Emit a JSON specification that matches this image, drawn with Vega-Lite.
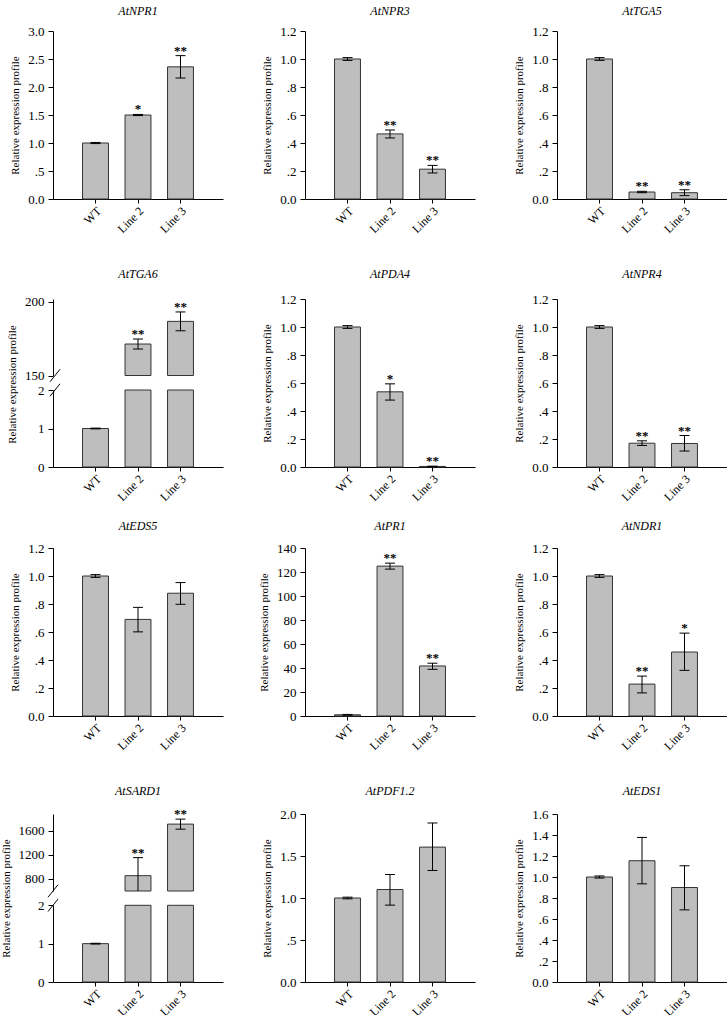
{
  "$schema": "https://vega.github.io/schema/vega-lite/v6.json",
  "background": "white",
  "padding": {"left": 0, "top": 5, "right": 0, "bottom": 0},
  "config": {
    "font": "Liberation Serif",
    "view": {"stroke": null},
    "axis": {"grid": false, "domainColor": "#000000", "tickColor": "#000000", "labelColor": "#000000", "titleColor": "#000000", "labelFont": "Liberation Serif", "titleFont": "Liberation Serif", "labelFontSize": 13, "titleFontSize": 11, "titleFontWeight": "normal", "tickSize": 5, "labelPadding": 4, "titlePadding": 7, "domainWidth": 1, "tickWidth": 1, "labelOverlap": false},
    "axisX": {"labelAngle": -45, "labelFontSize": 12, "tickSize": 4, "labelPadding": 2},
    "title": {"font": "Liberation Serif", "fontSize": 12, "fontStyle": "italic", "fontWeight": "normal", "color": "#000000", "anchor": "middle", "frame": "group", "baseline": "alphabetic"}
  },
  "datasets": {
    "d": [
      {"gene": "AtNPR1", "line": "WT", "value": 1.0, "lo": 0.99, "hi": 1.01, "sig": ""},
      {"gene": "AtNPR1", "line": "Line 2", "value": 1.5, "lo": 1.49, "hi": 1.51, "sig": "*"},
      {"gene": "AtNPR1", "line": "Line 3", "value": 2.36, "lo": 2.16, "hi": 2.56, "sig": "**"},
      {"gene": "AtNPR3", "line": "WT", "value": 1.0, "lo": 0.99, "hi": 1.01, "sig": ""},
      {"gene": "AtNPR3", "line": "Line 2", "value": 0.465, "lo": 0.436, "hi": 0.493, "sig": "**"},
      {"gene": "AtNPR3", "line": "Line 3", "value": 0.213, "lo": 0.186, "hi": 0.24, "sig": "**"},
      {"gene": "AtTGA5", "line": "WT", "value": 1.0, "lo": 0.99, "hi": 1.01, "sig": ""},
      {"gene": "AtTGA5", "line": "Line 2", "value": 0.05, "lo": 0.045, "hi": 0.055, "sig": "**"},
      {"gene": "AtTGA5", "line": "Line 3", "value": 0.045, "lo": 0.024, "hi": 0.066, "sig": "**"},
      {"gene": "AtTGA6", "line": "WT", "value": 1.0, "lo": 0.99, "hi": 1.01, "sig": ""},
      {"gene": "AtTGA6", "line": "Line 2", "value": 171.4, "lo": 168.0, "hi": 174.8, "sig": "**"},
      {"gene": "AtTGA6", "line": "Line 3", "value": 186.8, "lo": 180.4, "hi": 193.2, "sig": "**"},
      {"gene": "AtPDA4", "line": "WT", "value": 1.0, "lo": 0.99, "hi": 1.01, "sig": ""},
      {"gene": "AtPDA4", "line": "Line 2", "value": 0.537, "lo": 0.478, "hi": 0.594, "sig": "*"},
      {"gene": "AtPDA4", "line": "Line 3", "value": 0.004, "lo": 0.002, "hi": 0.006, "sig": "**"},
      {"gene": "AtNPR4", "line": "WT", "value": 1.0, "lo": 0.99, "hi": 1.01, "sig": ""},
      {"gene": "AtNPR4", "line": "Line 2", "value": 0.17, "lo": 0.154, "hi": 0.187, "sig": "**"},
      {"gene": "AtNPR4", "line": "Line 3", "value": 0.168, "lo": 0.114, "hi": 0.225, "sig": "**"},
      {"gene": "AtEDS5", "line": "WT", "value": 1.0, "lo": 0.99, "hi": 1.01, "sig": ""},
      {"gene": "AtEDS5", "line": "Line 2", "value": 0.69, "lo": 0.601, "hi": 0.776, "sig": ""},
      {"gene": "AtEDS5", "line": "Line 3", "value": 0.877, "lo": 0.798, "hi": 0.953, "sig": ""},
      {"gene": "AtPR1", "line": "WT", "value": 1.0, "lo": 0.7, "hi": 1.3, "sig": ""},
      {"gene": "AtPR1", "line": "Line 2", "value": 124.9, "lo": 122.4, "hi": 127.4, "sig": "**"},
      {"gene": "AtPR1", "line": "Line 3", "value": 41.7, "lo": 38.9, "hi": 44.0, "sig": "**"},
      {"gene": "AtNDR1", "line": "WT", "value": 1.0, "lo": 0.99, "hi": 1.01, "sig": ""},
      {"gene": "AtNDR1", "line": "Line 2", "value": 0.228, "lo": 0.165, "hi": 0.285, "sig": "**"},
      {"gene": "AtNDR1", "line": "Line 3", "value": 0.457, "lo": 0.326, "hi": 0.592, "sig": "*"},
      {"gene": "AtSARD1", "line": "WT", "value": 1.0, "lo": 0.99, "hi": 1.01, "sig": ""},
      {"gene": "AtSARD1", "line": "Line 2", "value": 855, "lo": 555, "hi": 1155, "sig": "**"},
      {"gene": "AtSARD1", "line": "Line 3", "value": 1712, "lo": 1628, "hi": 1795, "sig": "**"},
      {"gene": "AtPDF1.2", "line": "WT", "value": 1.0, "lo": 0.99, "hi": 1.01, "sig": ""},
      {"gene": "AtPDF1.2", "line": "Line 2", "value": 1.101, "lo": 0.915, "hi": 1.28, "sig": ""},
      {"gene": "AtPDF1.2", "line": "Line 3", "value": 1.606, "lo": 1.328, "hi": 1.893, "sig": ""},
      {"gene": "AtEDS1", "line": "WT", "value": 1.0, "lo": 0.99, "hi": 1.01, "sig": ""},
      {"gene": "AtEDS1", "line": "Line 2", "value": 1.155, "lo": 0.935, "hi": 1.377, "sig": ""},
      {"gene": "AtEDS1", "line": "Line 3", "value": 0.9, "lo": 0.687, "hi": 1.107, "sig": ""}
    ]
  },
  "columns": 3,
  "spacing": {"row": 81, "column": 82},
  "bounds": "flush",
  "align": "each",
  "concat": [
    {
      "title": {"text": "AtNPR1", "offset": 7},
      "width": 170, "height": 168,
      "data": {"name": "d"},
      "transform": [{"filter": "datum.gene == 'AtNPR1'"}],
      "encoding": {"x": {"field": "line", "type": "nominal", "title": null, "sort": null, "scale": {"domain": ["WT", "Line 2", "Line 3"], "paddingInner": 0.39, "paddingOuter": 0.695}}},
      "layer": [
        {"mark": {"type": "bar", "fill": "#bebebe", "stroke": "#333333", "strokeWidth": 1}, "encoding": {"y": {"field": "value", "type": "quantitative", "scale": {"domain": [0, 3], "nice": false}, "axis": {"title": "Relative expression profile", "values": [0, 0.5, 1, 1.5, 2, 2.5, 3], "labelExpr": "datum.value > 0 && datum.value < 1 ? replace(format(datum.value, '.1f'), '0.', '.') : format(datum.value, '.1f')"}}}},
        {"mark": {"type": "rule", "color": "#000000", "strokeWidth": 1}, "encoding": {"y": {"field": "lo", "type": "quantitative", "scale": {"domain": [0, 3], "nice": false}, "axis": {"title": "Relative expression profile", "values": [0, 0.5, 1, 1.5, 2, 2.5, 3], "labelExpr": "datum.value > 0 && datum.value < 1 ? replace(format(datum.value, '.1f'), '0.', '.') : format(datum.value, '.1f')"}}, "y2": {"field": "hi"}}},
        {"mark": {"type": "tick", "color": "#000000", "size": 10, "thickness": 1, "opacity": 1}, "encoding": {"y": {"field": "lo", "type": "quantitative", "scale": {"domain": [0, 3], "nice": false}, "axis": {"title": "Relative expression profile", "values": [0, 0.5, 1, 1.5, 2, 2.5, 3], "labelExpr": "datum.value > 0 && datum.value < 1 ? replace(format(datum.value, '.1f'), '0.', '.') : format(datum.value, '.1f')"}}}},
        {"mark": {"type": "tick", "color": "#000000", "size": 10, "thickness": 1, "opacity": 1}, "encoding": {"y": {"field": "hi", "type": "quantitative", "scale": {"domain": [0, 3], "nice": false}, "axis": {"title": "Relative expression profile", "values": [0, 0.5, 1, 1.5, 2, 2.5, 3], "labelExpr": "datum.value > 0 && datum.value < 1 ? replace(format(datum.value, '.1f'), '0.', '.') : format(datum.value, '.1f')"}}}},
        {"mark": {"type": "text", "fontSize": 13, "fontWeight": "bold", "baseline": "alphabetic", "dy": -1, "fill": "#000000", "color": "#000000"}, "encoding": {"y": {"field": "hi", "type": "quantitative", "scale": {"domain": [0, 3], "nice": false}, "axis": {"title": "Relative expression profile", "values": [0, 0.5, 1, 1.5, 2, 2.5, 3], "labelExpr": "datum.value > 0 && datum.value < 1 ? replace(format(datum.value, '.1f'), '0.', '.') : format(datum.value, '.1f')"}}, "text": {"field": "sig"}}}
      ]
    },
    {
      "title": {"text": "AtNPR3", "offset": 7},
      "width": 170, "height": 168,
      "data": {"name": "d"},
      "transform": [{"filter": "datum.gene == 'AtNPR3'"}],
      "encoding": {"x": {"field": "line", "type": "nominal", "title": null, "sort": null, "scale": {"domain": ["WT", "Line 2", "Line 3"], "paddingInner": 0.39, "paddingOuter": 0.695}}},
      "layer": [
        {"mark": {"type": "bar", "fill": "#bebebe", "stroke": "#333333", "strokeWidth": 1}, "encoding": {"y": {"field": "value", "type": "quantitative", "scale": {"domain": [0, 1.2], "nice": false}, "axis": {"title": "Relative expression profile", "values": [0, 0.2, 0.4, 0.6, 0.8, 1, 1.2], "labelExpr": "datum.value > 0 && datum.value < 1 ? replace(format(datum.value, '.1f'), '0.', '.') : format(datum.value, '.1f')"}}}},
        {"mark": {"type": "rule", "color": "#000000", "strokeWidth": 1}, "encoding": {"y": {"field": "lo", "type": "quantitative", "scale": {"domain": [0, 1.2], "nice": false}, "axis": {"title": "Relative expression profile", "values": [0, 0.2, 0.4, 0.6, 0.8, 1, 1.2], "labelExpr": "datum.value > 0 && datum.value < 1 ? replace(format(datum.value, '.1f'), '0.', '.') : format(datum.value, '.1f')"}}, "y2": {"field": "hi"}}},
        {"mark": {"type": "tick", "color": "#000000", "size": 10, "thickness": 1, "opacity": 1}, "encoding": {"y": {"field": "lo", "type": "quantitative", "scale": {"domain": [0, 1.2], "nice": false}, "axis": {"title": "Relative expression profile", "values": [0, 0.2, 0.4, 0.6, 0.8, 1, 1.2], "labelExpr": "datum.value > 0 && datum.value < 1 ? replace(format(datum.value, '.1f'), '0.', '.') : format(datum.value, '.1f')"}}}},
        {"mark": {"type": "tick", "color": "#000000", "size": 10, "thickness": 1, "opacity": 1}, "encoding": {"y": {"field": "hi", "type": "quantitative", "scale": {"domain": [0, 1.2], "nice": false}, "axis": {"title": "Relative expression profile", "values": [0, 0.2, 0.4, 0.6, 0.8, 1, 1.2], "labelExpr": "datum.value > 0 && datum.value < 1 ? replace(format(datum.value, '.1f'), '0.', '.') : format(datum.value, '.1f')"}}}},
        {"mark": {"type": "text", "fontSize": 13, "fontWeight": "bold", "baseline": "alphabetic", "dy": -1, "fill": "#000000", "color": "#000000"}, "encoding": {"y": {"field": "hi", "type": "quantitative", "scale": {"domain": [0, 1.2], "nice": false}, "axis": {"title": "Relative expression profile", "values": [0, 0.2, 0.4, 0.6, 0.8, 1, 1.2], "labelExpr": "datum.value > 0 && datum.value < 1 ? replace(format(datum.value, '.1f'), '0.', '.') : format(datum.value, '.1f')"}}, "text": {"field": "sig"}}}
      ]
    },
    {
      "title": {"text": "AtTGA5", "offset": 7},
      "width": 170, "height": 168,
      "data": {"name": "d"},
      "transform": [{"filter": "datum.gene == 'AtTGA5'"}],
      "encoding": {"x": {"field": "line", "type": "nominal", "title": null, "sort": null, "scale": {"domain": ["WT", "Line 2", "Line 3"], "paddingInner": 0.39, "paddingOuter": 0.695}}},
      "layer": [
        {"mark": {"type": "bar", "fill": "#bebebe", "stroke": "#333333", "strokeWidth": 1}, "encoding": {"y": {"field": "value", "type": "quantitative", "scale": {"domain": [0, 1.2], "nice": false}, "axis": {"title": "Relative expression profile", "values": [0, 0.2, 0.4, 0.6, 0.8, 1, 1.2], "labelExpr": "datum.value > 0 && datum.value < 1 ? replace(format(datum.value, '.1f'), '0.', '.') : format(datum.value, '.1f')"}}}},
        {"mark": {"type": "rule", "color": "#000000", "strokeWidth": 1}, "encoding": {"y": {"field": "lo", "type": "quantitative", "scale": {"domain": [0, 1.2], "nice": false}, "axis": {"title": "Relative expression profile", "values": [0, 0.2, 0.4, 0.6, 0.8, 1, 1.2], "labelExpr": "datum.value > 0 && datum.value < 1 ? replace(format(datum.value, '.1f'), '0.', '.') : format(datum.value, '.1f')"}}, "y2": {"field": "hi"}}},
        {"mark": {"type": "tick", "color": "#000000", "size": 10, "thickness": 1, "opacity": 1}, "encoding": {"y": {"field": "lo", "type": "quantitative", "scale": {"domain": [0, 1.2], "nice": false}, "axis": {"title": "Relative expression profile", "values": [0, 0.2, 0.4, 0.6, 0.8, 1, 1.2], "labelExpr": "datum.value > 0 && datum.value < 1 ? replace(format(datum.value, '.1f'), '0.', '.') : format(datum.value, '.1f')"}}}},
        {"mark": {"type": "tick", "color": "#000000", "size": 10, "thickness": 1, "opacity": 1}, "encoding": {"y": {"field": "hi", "type": "quantitative", "scale": {"domain": [0, 1.2], "nice": false}, "axis": {"title": "Relative expression profile", "values": [0, 0.2, 0.4, 0.6, 0.8, 1, 1.2], "labelExpr": "datum.value > 0 && datum.value < 1 ? replace(format(datum.value, '.1f'), '0.', '.') : format(datum.value, '.1f')"}}}},
        {"mark": {"type": "text", "fontSize": 13, "fontWeight": "bold", "baseline": "alphabetic", "dy": -1, "fill": "#000000", "color": "#000000"}, "encoding": {"y": {"field": "hi", "type": "quantitative", "scale": {"domain": [0, 1.2], "nice": false}, "axis": {"title": "Relative expression profile", "values": [0, 0.2, 0.4, 0.6, 0.8, 1, 1.2], "labelExpr": "datum.value > 0 && datum.value < 1 ? replace(format(datum.value, '.1f'), '0.', '.') : format(datum.value, '.1f')"}}, "text": {"field": "sig"}}}
      ]
    },
    {
      "title": {"text": "AtTGA6", "offset": -1},
      "width": 170, "height": 187,
      "data": {"name": "d"},
      "transform": [{"filter": "datum.gene == 'AtTGA6'"}],
      "layer": [
        {
          "transform": [{"filter": "datum.value > 2"}],
          "encoding": {
            "x": {"field": "line", "type": "nominal", "title": null, "sort": null, "scale": {"domain": ["WT", "Line 2", "Line 3"], "paddingInner": 0.39, "paddingOuter": 0.695}, "axis": null},
            "y": {"field": "value", "type": "quantitative", "scale": {"domain": [150, 202], "range": [95.5, 19], "nice": false, "zero": false, "clamp": true}, "axis": {"orient": "left", "values": [150, 200], "tickCount": 10, "format": "d", "title": null}}
          },
          "layer": [
            {"mark": {"type": "bar", "fill": "#bebebe", "stroke": "#333333", "strokeWidth": 1}, "encoding": {"y2": {"datum": 150}}},
            {"mark": {"type": "rule", "color": "#000000", "strokeWidth": 1}, "encoding": {"y": {"field": "lo", "type": "quantitative", "axis": {"orient": "left", "values": [150, 200], "tickCount": 10, "format": "d", "title": null}}, "y2": {"field": "hi"}}},
            {"mark": {"type": "tick", "color": "#000000", "size": 10, "thickness": 1, "opacity": 1}, "encoding": {"y": {"field": "lo", "type": "quantitative", "axis": {"orient": "left", "values": [150, 200], "tickCount": 10, "format": "d", "title": null}}}},
            {"mark": {"type": "tick", "color": "#000000", "size": 10, "thickness": 1, "opacity": 1}, "encoding": {"y": {"field": "hi", "type": "quantitative", "axis": {"orient": "left", "values": [150, 200], "tickCount": 10, "format": "d", "title": null}}}},
            {"mark": {"type": "text", "fontSize": 13, "fontWeight": "bold", "baseline": "alphabetic", "dy": -1, "fill": "#000000", "color": "#000000"}, "encoding": {"y": {"field": "hi", "type": "quantitative", "axis": {"orient": "left", "values": [150, 200], "tickCount": 10, "format": "d", "title": null}}, "text": {"field": "sig"}}}
          ]
        },
        {
          "encoding": {
            "x": {"field": "line", "type": "nominal", "title": null, "sort": null, "scale": {"domain": ["WT", "Line 2", "Line 3"], "paddingInner": 0.39, "paddingOuter": 0.695}},
            "y": {"field": "value", "type": "quantitative", "scale": {"domain": [0, 2], "range": [187, 110], "nice": false, "clamp": true}, "axis": null}
          },
          "layer": [
            {"mark": {"type": "bar", "fill": "#bebebe", "stroke": "#333333", "strokeWidth": 1}, "encoding": {"y2": {"datum": 0}}},
            {"transform": [{"filter": "datum.hi <= 2"}], "mark": {"type": "rule", "color": "#000000", "strokeWidth": 1}, "encoding": {"y": {"field": "lo", "type": "quantitative", "axis": null}, "y2": {"field": "hi"}}},
            {"transform": [{"filter": "datum.hi <= 2"}], "mark": {"type": "tick", "color": "#000000", "size": 10, "thickness": 1, "opacity": 1}, "encoding": {"y": {"field": "lo", "type": "quantitative", "axis": null}}},
            {"transform": [{"filter": "datum.hi <= 2"}], "mark": {"type": "tick", "color": "#000000", "size": 10, "thickness": 1, "opacity": 1}, "encoding": {"y": {"field": "hi", "type": "quantitative", "axis": null}}}
          ]
        },
        {
          "transform": [{"filter": "datum.line == 'WT'"}],
          "mark": {"type": "point", "shape": "M-0.6,1.25L1.4,-1.25", "size": 100, "filled": false, "stroke": "#000000", "strokeWidth": 1, "opacity": 1},
          "encoding": {
            "x": {"datum": 0, "type": "quantitative", "scale": {"domain": [0, 1]}, "axis": null},
            "y": {"datum": 150, "type": "quantitative", "scale": {"domain": [150, 202], "range": [95.5, 19], "nice": false, "zero": false}, "axis": null}
          }
        },
        {
          "transform": [{"filter": "datum.line == 'WT'"}],
          "mark": {"type": "point", "shape": "M-0.6,1.25L1.4,-1.25", "size": 100, "filled": false, "stroke": "#000000", "strokeWidth": 1, "opacity": 1},
          "encoding": {
            "x": {"datum": 0, "type": "quantitative", "scale": {"domain": [0, 1]}, "axis": null},
            "y": {"datum": 2, "type": "quantitative", "scale": {"domain": [0, 2], "range": [187, 110], "nice": false}, "axis": {"orient": "left", "values": [0, 1, 2], "tickCount": 10, "labelOverlap": false, "format": "d", "title": "Relative expression profile", "titleY": 104, "titlePadding": 20}}
          }
        },
        {
          "transform": [{"filter": "datum.line == 'WT'"}],
          "mark": {"type": "point", "size": 1, "opacity": 0},
          "encoding": {
            "x": {"datum": 0, "type": "quantitative", "scale": {"domain": [0, 1]}, "axis": null},
            "y": {"datum": 1, "type": "quantitative", "scale": {"domain": [0, 2], "range": [187, 110], "nice": false}, "axis": {"orient": "left", "values": [1], "format": "d", "domain": false, "title": null, "labelOverlap": false}}
          }
        }
      ],
      "resolve": {"scale": {"x": "independent", "y": "independent"}, "axis": {"x": "independent", "y": "independent"}}
    },
    {
      "title": {"text": "AtPDA4", "offset": -1},
      "width": 170, "height": 187,
      "data": {"name": "d"},
      "transform": [{"filter": "datum.gene == 'AtPDA4'"}],
      "encoding": {"x": {"field": "line", "type": "nominal", "title": null, "sort": null, "scale": {"domain": ["WT", "Line 2", "Line 3"], "paddingInner": 0.39, "paddingOuter": 0.695}}},
      "layer": [
        {"mark": {"type": "bar", "fill": "#bebebe", "stroke": "#333333", "strokeWidth": 1}, "encoding": {"y": {"field": "value", "type": "quantitative", "scale": {"domain": [0, 1.2], "range": [187, 19], "nice": false}, "axis": {"title": "Relative expression profile", "values": [0, 0.2, 0.4, 0.6, 0.8, 1, 1.2], "labelExpr": "datum.value > 0 && datum.value < 1 ? replace(format(datum.value, '.1f'), '0.', '.') : format(datum.value, '.1f')"}}}},
        {"mark": {"type": "rule", "color": "#000000", "strokeWidth": 1}, "encoding": {"y": {"field": "lo", "type": "quantitative", "scale": {"domain": [0, 1.2], "range": [187, 19], "nice": false}, "axis": {"title": "Relative expression profile", "values": [0, 0.2, 0.4, 0.6, 0.8, 1, 1.2], "labelExpr": "datum.value > 0 && datum.value < 1 ? replace(format(datum.value, '.1f'), '0.', '.') : format(datum.value, '.1f')"}}, "y2": {"field": "hi"}}},
        {"mark": {"type": "tick", "color": "#000000", "size": 10, "thickness": 1, "opacity": 1}, "encoding": {"y": {"field": "lo", "type": "quantitative", "scale": {"domain": [0, 1.2], "range": [187, 19], "nice": false}, "axis": {"title": "Relative expression profile", "values": [0, 0.2, 0.4, 0.6, 0.8, 1, 1.2], "labelExpr": "datum.value > 0 && datum.value < 1 ? replace(format(datum.value, '.1f'), '0.', '.') : format(datum.value, '.1f')"}}}},
        {"mark": {"type": "tick", "color": "#000000", "size": 10, "thickness": 1, "opacity": 1}, "encoding": {"y": {"field": "hi", "type": "quantitative", "scale": {"domain": [0, 1.2], "range": [187, 19], "nice": false}, "axis": {"title": "Relative expression profile", "values": [0, 0.2, 0.4, 0.6, 0.8, 1, 1.2], "labelExpr": "datum.value > 0 && datum.value < 1 ? replace(format(datum.value, '.1f'), '0.', '.') : format(datum.value, '.1f')"}}}},
        {"mark": {"type": "text", "fontSize": 13, "fontWeight": "bold", "baseline": "alphabetic", "dy": -1, "fill": "#000000", "color": "#000000"}, "encoding": {"y": {"field": "hi", "type": "quantitative", "scale": {"domain": [0, 1.2], "range": [187, 19], "nice": false}, "axis": {"title": "Relative expression profile", "values": [0, 0.2, 0.4, 0.6, 0.8, 1, 1.2], "labelExpr": "datum.value > 0 && datum.value < 1 ? replace(format(datum.value, '.1f'), '0.', '.') : format(datum.value, '.1f')"}}, "text": {"field": "sig"}}}
      ]
    },
    {
      "title": {"text": "AtNPR4", "offset": -1},
      "width": 170, "height": 187,
      "data": {"name": "d"},
      "transform": [{"filter": "datum.gene == 'AtNPR4'"}],
      "encoding": {"x": {"field": "line", "type": "nominal", "title": null, "sort": null, "scale": {"domain": ["WT", "Line 2", "Line 3"], "paddingInner": 0.39, "paddingOuter": 0.695}}},
      "layer": [
        {"mark": {"type": "bar", "fill": "#bebebe", "stroke": "#333333", "strokeWidth": 1}, "encoding": {"y": {"field": "value", "type": "quantitative", "scale": {"domain": [0, 1.2], "range": [187, 19], "nice": false}, "axis": {"title": "Relative expression profile", "values": [0, 0.2, 0.4, 0.6, 0.8, 1, 1.2], "labelExpr": "datum.value > 0 && datum.value < 1 ? replace(format(datum.value, '.1f'), '0.', '.') : format(datum.value, '.1f')"}}}},
        {"mark": {"type": "rule", "color": "#000000", "strokeWidth": 1}, "encoding": {"y": {"field": "lo", "type": "quantitative", "scale": {"domain": [0, 1.2], "range": [187, 19], "nice": false}, "axis": {"title": "Relative expression profile", "values": [0, 0.2, 0.4, 0.6, 0.8, 1, 1.2], "labelExpr": "datum.value > 0 && datum.value < 1 ? replace(format(datum.value, '.1f'), '0.', '.') : format(datum.value, '.1f')"}}, "y2": {"field": "hi"}}},
        {"mark": {"type": "tick", "color": "#000000", "size": 10, "thickness": 1, "opacity": 1}, "encoding": {"y": {"field": "lo", "type": "quantitative", "scale": {"domain": [0, 1.2], "range": [187, 19], "nice": false}, "axis": {"title": "Relative expression profile", "values": [0, 0.2, 0.4, 0.6, 0.8, 1, 1.2], "labelExpr": "datum.value > 0 && datum.value < 1 ? replace(format(datum.value, '.1f'), '0.', '.') : format(datum.value, '.1f')"}}}},
        {"mark": {"type": "tick", "color": "#000000", "size": 10, "thickness": 1, "opacity": 1}, "encoding": {"y": {"field": "hi", "type": "quantitative", "scale": {"domain": [0, 1.2], "range": [187, 19], "nice": false}, "axis": {"title": "Relative expression profile", "values": [0, 0.2, 0.4, 0.6, 0.8, 1, 1.2], "labelExpr": "datum.value > 0 && datum.value < 1 ? replace(format(datum.value, '.1f'), '0.', '.') : format(datum.value, '.1f')"}}}},
        {"mark": {"type": "text", "fontSize": 13, "fontWeight": "bold", "baseline": "alphabetic", "dy": -1, "fill": "#000000", "color": "#000000"}, "encoding": {"y": {"field": "hi", "type": "quantitative", "scale": {"domain": [0, 1.2], "range": [187, 19], "nice": false}, "axis": {"title": "Relative expression profile", "values": [0, 0.2, 0.4, 0.6, 0.8, 1, 1.2], "labelExpr": "datum.value > 0 && datum.value < 1 ? replace(format(datum.value, '.1f'), '0.', '.') : format(datum.value, '.1f')"}}, "text": {"field": "sig"}}}
      ]
    },
    {
      "title": {"text": "AtEDS5", "offset": 9},
      "width": 170, "height": 168,
      "data": {"name": "d"},
      "transform": [{"filter": "datum.gene == 'AtEDS5'"}],
      "encoding": {"x": {"field": "line", "type": "nominal", "title": null, "sort": null, "scale": {"domain": ["WT", "Line 2", "Line 3"], "paddingInner": 0.39, "paddingOuter": 0.695}}},
      "layer": [
        {"mark": {"type": "bar", "fill": "#bebebe", "stroke": "#333333", "strokeWidth": 1}, "encoding": {"y": {"field": "value", "type": "quantitative", "scale": {"domain": [0, 1.2], "nice": false}, "axis": {"title": "Relative expression profile", "values": [0, 0.2, 0.4, 0.6, 0.8, 1, 1.2], "labelExpr": "datum.value > 0 && datum.value < 1 ? replace(format(datum.value, '.1f'), '0.', '.') : format(datum.value, '.1f')"}}}},
        {"mark": {"type": "rule", "color": "#000000", "strokeWidth": 1}, "encoding": {"y": {"field": "lo", "type": "quantitative", "scale": {"domain": [0, 1.2], "nice": false}, "axis": {"title": "Relative expression profile", "values": [0, 0.2, 0.4, 0.6, 0.8, 1, 1.2], "labelExpr": "datum.value > 0 && datum.value < 1 ? replace(format(datum.value, '.1f'), '0.', '.') : format(datum.value, '.1f')"}}, "y2": {"field": "hi"}}},
        {"mark": {"type": "tick", "color": "#000000", "size": 10, "thickness": 1, "opacity": 1}, "encoding": {"y": {"field": "lo", "type": "quantitative", "scale": {"domain": [0, 1.2], "nice": false}, "axis": {"title": "Relative expression profile", "values": [0, 0.2, 0.4, 0.6, 0.8, 1, 1.2], "labelExpr": "datum.value > 0 && datum.value < 1 ? replace(format(datum.value, '.1f'), '0.', '.') : format(datum.value, '.1f')"}}}},
        {"mark": {"type": "tick", "color": "#000000", "size": 10, "thickness": 1, "opacity": 1}, "encoding": {"y": {"field": "hi", "type": "quantitative", "scale": {"domain": [0, 1.2], "nice": false}, "axis": {"title": "Relative expression profile", "values": [0, 0.2, 0.4, 0.6, 0.8, 1, 1.2], "labelExpr": "datum.value > 0 && datum.value < 1 ? replace(format(datum.value, '.1f'), '0.', '.') : format(datum.value, '.1f')"}}}}
      ]
    },
    {
      "title": {"text": "AtPR1", "offset": 9},
      "width": 170, "height": 168,
      "data": {"name": "d"},
      "transform": [{"filter": "datum.gene == 'AtPR1'"}],
      "encoding": {"x": {"field": "line", "type": "nominal", "title": null, "sort": null, "scale": {"domain": ["WT", "Line 2", "Line 3"], "paddingInner": 0.39, "paddingOuter": 0.695}}},
      "layer": [
        {"mark": {"type": "bar", "fill": "#bebebe", "stroke": "#333333", "strokeWidth": 1}, "encoding": {"y": {"field": "value", "type": "quantitative", "scale": {"domain": [0, 140], "nice": false}, "axis": {"title": "Relative expression profile", "values": [0, 20, 40, 60, 80, 100, 120, 140], "format": "d"}}}},
        {"mark": {"type": "rule", "color": "#000000", "strokeWidth": 1}, "encoding": {"y": {"field": "lo", "type": "quantitative", "scale": {"domain": [0, 140], "nice": false}, "axis": {"title": "Relative expression profile", "values": [0, 20, 40, 60, 80, 100, 120, 140], "format": "d"}}, "y2": {"field": "hi"}}},
        {"mark": {"type": "tick", "color": "#000000", "size": 10, "thickness": 1, "opacity": 1}, "encoding": {"y": {"field": "lo", "type": "quantitative", "scale": {"domain": [0, 140], "nice": false}, "axis": {"title": "Relative expression profile", "values": [0, 20, 40, 60, 80, 100, 120, 140], "format": "d"}}}},
        {"mark": {"type": "tick", "color": "#000000", "size": 10, "thickness": 1, "opacity": 1}, "encoding": {"y": {"field": "hi", "type": "quantitative", "scale": {"domain": [0, 140], "nice": false}, "axis": {"title": "Relative expression profile", "values": [0, 20, 40, 60, 80, 100, 120, 140], "format": "d"}}}},
        {"mark": {"type": "text", "fontSize": 13, "fontWeight": "bold", "baseline": "alphabetic", "dy": -1, "fill": "#000000", "color": "#000000"}, "encoding": {"y": {"field": "hi", "type": "quantitative", "scale": {"domain": [0, 140], "nice": false}, "axis": {"title": "Relative expression profile", "values": [0, 20, 40, 60, 80, 100, 120, 140], "format": "d"}}, "text": {"field": "sig"}}}
      ]
    },
    {
      "title": {"text": "AtNDR1", "offset": 9},
      "width": 170, "height": 168,
      "data": {"name": "d"},
      "transform": [{"filter": "datum.gene == 'AtNDR1'"}],
      "encoding": {"x": {"field": "line", "type": "nominal", "title": null, "sort": null, "scale": {"domain": ["WT", "Line 2", "Line 3"], "paddingInner": 0.39, "paddingOuter": 0.695}}},
      "layer": [
        {"mark": {"type": "bar", "fill": "#bebebe", "stroke": "#333333", "strokeWidth": 1}, "encoding": {"y": {"field": "value", "type": "quantitative", "scale": {"domain": [0, 1.2], "nice": false}, "axis": {"title": "Relative expression profile", "values": [0, 0.2, 0.4, 0.6, 0.8, 1, 1.2], "labelExpr": "datum.value > 0 && datum.value < 1 ? replace(format(datum.value, '.1f'), '0.', '.') : format(datum.value, '.1f')"}}}},
        {"mark": {"type": "rule", "color": "#000000", "strokeWidth": 1}, "encoding": {"y": {"field": "lo", "type": "quantitative", "scale": {"domain": [0, 1.2], "nice": false}, "axis": {"title": "Relative expression profile", "values": [0, 0.2, 0.4, 0.6, 0.8, 1, 1.2], "labelExpr": "datum.value > 0 && datum.value < 1 ? replace(format(datum.value, '.1f'), '0.', '.') : format(datum.value, '.1f')"}}, "y2": {"field": "hi"}}},
        {"mark": {"type": "tick", "color": "#000000", "size": 10, "thickness": 1, "opacity": 1}, "encoding": {"y": {"field": "lo", "type": "quantitative", "scale": {"domain": [0, 1.2], "nice": false}, "axis": {"title": "Relative expression profile", "values": [0, 0.2, 0.4, 0.6, 0.8, 1, 1.2], "labelExpr": "datum.value > 0 && datum.value < 1 ? replace(format(datum.value, '.1f'), '0.', '.') : format(datum.value, '.1f')"}}}},
        {"mark": {"type": "tick", "color": "#000000", "size": 10, "thickness": 1, "opacity": 1}, "encoding": {"y": {"field": "hi", "type": "quantitative", "scale": {"domain": [0, 1.2], "nice": false}, "axis": {"title": "Relative expression profile", "values": [0, 0.2, 0.4, 0.6, 0.8, 1, 1.2], "labelExpr": "datum.value > 0 && datum.value < 1 ? replace(format(datum.value, '.1f'), '0.', '.') : format(datum.value, '.1f')"}}}},
        {"mark": {"type": "text", "fontSize": 13, "fontWeight": "bold", "baseline": "alphabetic", "dy": -1, "fill": "#000000", "color": "#000000"}, "encoding": {"y": {"field": "hi", "type": "quantitative", "scale": {"domain": [0, 1.2], "nice": false}, "axis": {"title": "Relative expression profile", "values": [0, 0.2, 0.4, 0.6, 0.8, 1, 1.2], "labelExpr": "datum.value > 0 && datum.value < 1 ? replace(format(datum.value, '.1f'), '0.', '.') : format(datum.value, '.1f')"}}, "text": {"field": "sig"}}}
      ]
    },
    {
      "title": {"text": "AtSARD1", "offset": -1},
      "width": 170, "height": 185,
      "data": {"name": "d"},
      "transform": [{"filter": "datum.gene == 'AtSARD1'"}],
      "layer": [
        {
          "transform": [{"filter": "datum.value > 2"}],
          "encoding": {
            "x": {"field": "line", "type": "nominal", "title": null, "sort": null, "scale": {"domain": ["WT", "Line 2", "Line 3"], "paddingInner": 0.39, "paddingOuter": 0.695}, "axis": null},
            "y": {"field": "value", "type": "quantitative", "scale": {"domain": [600, 1880], "range": [94, 17], "nice": false, "zero": false, "clamp": true}, "axis": {"orient": "left", "values": [800, 1200, 1600], "tickCount": 10, "format": "d", "title": null}}
          },
          "layer": [
            {"mark": {"type": "bar", "fill": "#bebebe", "stroke": "#333333", "strokeWidth": 1}, "encoding": {"y2": {"datum": 600}}},
            {"mark": {"type": "rule", "color": "#000000", "strokeWidth": 1}, "encoding": {"y": {"field": "lo", "type": "quantitative", "axis": {"orient": "left", "values": [800, 1200, 1600], "tickCount": 10, "format": "d", "title": null}}, "y2": {"field": "hi"}}},
            {"transform": [{"filter": "datum.lo >= 600"}], "mark": {"type": "tick", "color": "#000000", "size": 10, "thickness": 1, "opacity": 1}, "encoding": {"y": {"field": "lo", "type": "quantitative", "axis": {"orient": "left", "values": [800, 1200, 1600], "tickCount": 10, "format": "d", "title": null}}}},
            {"mark": {"type": "tick", "color": "#000000", "size": 10, "thickness": 1, "opacity": 1}, "encoding": {"y": {"field": "hi", "type": "quantitative", "axis": {"orient": "left", "values": [800, 1200, 1600], "tickCount": 10, "format": "d", "title": null}}}},
            {"mark": {"type": "text", "fontSize": 13, "fontWeight": "bold", "baseline": "alphabetic", "dy": -1, "fill": "#000000", "color": "#000000"}, "encoding": {"y": {"field": "hi", "type": "quantitative", "axis": {"orient": "left", "values": [800, 1200, 1600], "tickCount": 10, "format": "d", "title": null}}, "text": {"field": "sig"}}}
          ]
        },
        {
          "encoding": {
            "x": {"field": "line", "type": "nominal", "title": null, "sort": null, "scale": {"domain": ["WT", "Line 2", "Line 3"], "paddingInner": 0.39, "paddingOuter": 0.695}},
            "y": {"field": "value", "type": "quantitative", "scale": {"domain": [0, 2], "range": [185, 108.3], "nice": false, "clamp": true}, "axis": null}
          },
          "layer": [
            {"mark": {"type": "bar", "fill": "#bebebe", "stroke": "#333333", "strokeWidth": 1}, "encoding": {"y2": {"datum": 0}}},
            {"transform": [{"filter": "datum.hi <= 2"}], "mark": {"type": "rule", "color": "#000000", "strokeWidth": 1}, "encoding": {"y": {"field": "lo", "type": "quantitative", "axis": null}, "y2": {"field": "hi"}}},
            {"transform": [{"filter": "datum.hi <= 2"}], "mark": {"type": "tick", "color": "#000000", "size": 10, "thickness": 1, "opacity": 1}, "encoding": {"y": {"field": "lo", "type": "quantitative", "axis": null}}},
            {"transform": [{"filter": "datum.hi <= 2"}], "mark": {"type": "tick", "color": "#000000", "size": 10, "thickness": 1, "opacity": 1}, "encoding": {"y": {"field": "hi", "type": "quantitative", "axis": null}}}
          ]
        },
        {
          "transform": [{"filter": "datum.line == 'WT'"}],
          "mark": {"type": "point", "shape": "M-1,1.25L1,-1.25", "size": 100, "filled": false, "stroke": "#000000", "strokeWidth": 1, "opacity": 1},
          "encoding": {
            "x": {"datum": 0, "type": "quantitative", "scale": {"domain": [0, 1]}, "axis": null},
            "y": {"datum": 600, "type": "quantitative", "scale": {"domain": [600, 1880], "range": [94, 17], "nice": false, "zero": false}, "axis": null}
          }
        },
        {
          "transform": [{"filter": "datum.line == 'WT'"}],
          "mark": {"type": "point", "shape": "M-1,1.25L1,-1.25", "size": 100, "filled": false, "stroke": "#000000", "strokeWidth": 1, "opacity": 1},
          "encoding": {
            "x": {"datum": 0, "type": "quantitative", "scale": {"domain": [0, 1]}, "axis": null},
            "y": {"datum": 2, "type": "quantitative", "scale": {"domain": [0, 2], "range": [185, 108.3], "nice": false}, "axis": {"orient": "left", "values": [0, 1, 2], "tickCount": 10, "labelOverlap": false, "format": "d", "title": "Relative expression profile", "titleY": 101, "titlePadding": 26.5}}
          }
        },
        {
          "transform": [{"filter": "datum.line == 'WT'"}],
          "mark": {"type": "point", "size": 1, "opacity": 0},
          "encoding": {
            "x": {"datum": 0, "type": "quantitative", "scale": {"domain": [0, 1]}, "axis": null},
            "y": {"datum": 1, "type": "quantitative", "scale": {"domain": [0, 2], "range": [185, 108.3], "nice": false}, "axis": {"orient": "left", "values": [1], "format": "d", "domain": false, "title": null, "labelOverlap": false}}
          }
        }
      ],
      "resolve": {"scale": {"x": "independent", "y": "independent"}, "axis": {"x": "independent", "y": "independent"}}
    },
    {
      "title": {"text": "AtPDF1.2", "offset": -1},
      "width": 170, "height": 185,
      "data": {"name": "d"},
      "transform": [{"filter": "datum.gene == 'AtPDF1.2'"}],
      "encoding": {"x": {"field": "line", "type": "nominal", "title": null, "sort": null, "scale": {"domain": ["WT", "Line 2", "Line 3"], "paddingInner": 0.39, "paddingOuter": 0.695}}},
      "layer": [
        {"mark": {"type": "bar", "fill": "#bebebe", "stroke": "#333333", "strokeWidth": 1}, "encoding": {"y": {"field": "value", "type": "quantitative", "scale": {"domain": [0, 2], "range": [185, 17], "nice": false}, "axis": {"title": "Relative expression profile", "values": [0, 0.5, 1, 1.5, 2], "labelExpr": "datum.value > 0 && datum.value < 1 ? replace(format(datum.value, '.1f'), '0.', '.') : format(datum.value, '.1f')"}}}},
        {"mark": {"type": "rule", "color": "#000000", "strokeWidth": 1}, "encoding": {"y": {"field": "lo", "type": "quantitative", "scale": {"domain": [0, 2], "range": [185, 17], "nice": false}, "axis": {"title": "Relative expression profile", "values": [0, 0.5, 1, 1.5, 2], "labelExpr": "datum.value > 0 && datum.value < 1 ? replace(format(datum.value, '.1f'), '0.', '.') : format(datum.value, '.1f')"}}, "y2": {"field": "hi"}}},
        {"mark": {"type": "tick", "color": "#000000", "size": 10, "thickness": 1, "opacity": 1}, "encoding": {"y": {"field": "lo", "type": "quantitative", "scale": {"domain": [0, 2], "range": [185, 17], "nice": false}, "axis": {"title": "Relative expression profile", "values": [0, 0.5, 1, 1.5, 2], "labelExpr": "datum.value > 0 && datum.value < 1 ? replace(format(datum.value, '.1f'), '0.', '.') : format(datum.value, '.1f')"}}}},
        {"mark": {"type": "tick", "color": "#000000", "size": 10, "thickness": 1, "opacity": 1}, "encoding": {"y": {"field": "hi", "type": "quantitative", "scale": {"domain": [0, 2], "range": [185, 17], "nice": false}, "axis": {"title": "Relative expression profile", "values": [0, 0.5, 1, 1.5, 2], "labelExpr": "datum.value > 0 && datum.value < 1 ? replace(format(datum.value, '.1f'), '0.', '.') : format(datum.value, '.1f')"}}}}
      ]
    },
    {
      "title": {"text": "AtEDS1", "offset": -1},
      "width": 170, "height": 185,
      "data": {"name": "d"},
      "transform": [{"filter": "datum.gene == 'AtEDS1'"}],
      "encoding": {"x": {"field": "line", "type": "nominal", "title": null, "sort": null, "scale": {"domain": ["WT", "Line 2", "Line 3"], "paddingInner": 0.39, "paddingOuter": 0.695}}},
      "layer": [
        {"mark": {"type": "bar", "fill": "#bebebe", "stroke": "#333333", "strokeWidth": 1}, "encoding": {"y": {"field": "value", "type": "quantitative", "scale": {"domain": [0, 1.6], "range": [185, 17], "nice": false}, "axis": {"title": "Relative expression profile", "values": [0, 0.2, 0.4, 0.6, 0.8, 1, 1.2, 1.4, 1.6], "labelExpr": "datum.value > 0 && datum.value < 1 ? replace(format(datum.value, '.1f'), '0.', '.') : format(datum.value, '.1f')"}}}},
        {"mark": {"type": "rule", "color": "#000000", "strokeWidth": 1}, "encoding": {"y": {"field": "lo", "type": "quantitative", "scale": {"domain": [0, 1.6], "range": [185, 17], "nice": false}, "axis": {"title": "Relative expression profile", "values": [0, 0.2, 0.4, 0.6, 0.8, 1, 1.2, 1.4, 1.6], "labelExpr": "datum.value > 0 && datum.value < 1 ? replace(format(datum.value, '.1f'), '0.', '.') : format(datum.value, '.1f')"}}, "y2": {"field": "hi"}}},
        {"mark": {"type": "tick", "color": "#000000", "size": 10, "thickness": 1, "opacity": 1}, "encoding": {"y": {"field": "lo", "type": "quantitative", "scale": {"domain": [0, 1.6], "range": [185, 17], "nice": false}, "axis": {"title": "Relative expression profile", "values": [0, 0.2, 0.4, 0.6, 0.8, 1, 1.2, 1.4, 1.6], "labelExpr": "datum.value > 0 && datum.value < 1 ? replace(format(datum.value, '.1f'), '0.', '.') : format(datum.value, '.1f')"}}}},
        {"mark": {"type": "tick", "color": "#000000", "size": 10, "thickness": 1, "opacity": 1}, "encoding": {"y": {"field": "hi", "type": "quantitative", "scale": {"domain": [0, 1.6], "range": [185, 17], "nice": false}, "axis": {"title": "Relative expression profile", "values": [0, 0.2, 0.4, 0.6, 0.8, 1, 1.2, 1.4, 1.6], "labelExpr": "datum.value > 0 && datum.value < 1 ? replace(format(datum.value, '.1f'), '0.', '.') : format(datum.value, '.1f')"}}}}
      ]
    }
  ]
}
